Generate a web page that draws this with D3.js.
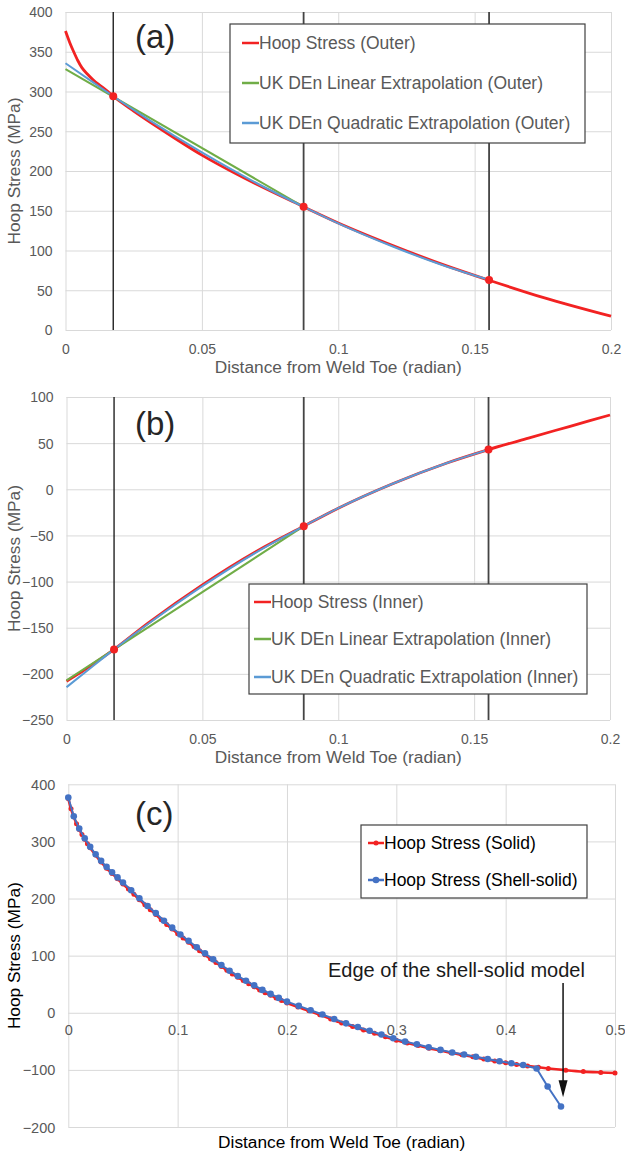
<!DOCTYPE html>
<html>
<head>
<meta charset="utf-8">
<script src="https://cdn.jsdelivr.net/npm/d3@7"></script>
<style>
body { margin: 0; background: #fff; }
svg text { font-family: "Liberation Sans", Arial, sans-serif; }
</style>
</head>
<body>
<script>
// ---- panel (a): outer surface ----
var outerHoopX = [0, 0.0015, 0.003, 0.0045, 0.006, 0.008, 0.0102, 0.0125, 0.015, 0.0175, 0.025, 0.035, 0.05, 0.065, 0.0873, 0.1, 0.12, 0.14, 0.1553, 0.175, 0.2];
var outerHoopY = [376, 362, 350, 339, 330, 322, 314.5, 308, 301.5, 294, 275.5, 252.5, 220, 192, 155, 134.7, 106.3, 80.3, 62.6, 41, 17.3];
var outerLinX = [0, 0.0873];
var outerLinY = [328, 155];
var outerQuadX = [0, 0.01, 0.0175, 0.03, 0.05, 0.07, 0.0873, 0.1, 0.12, 0.14, 0.1553];
var outerQuadY = [335.5, 311.8, 294, 265.6, 223.4, 184.9, 155, 134.1, 105, 79.5, 63];
var outerDotsY = [294, 155, 63];

// ---- panel (b): inner surface ----
var innerHoopX = [0, 0.005, 0.01, 0.0175, 0.03, 0.05, 0.07, 0.0873, 0.1, 0.12, 0.14, 0.1553, 0.17, 0.185, 0.2];
var innerHoopY = [-208, -199, -189, -173.5, -145, -103.5, -67, -40, -20.5, 6, 28.5, 43, 55.5, 68, 80.5];
var innerLinX = [0, 0.0873];
var innerLinY = [-207, -40];
var innerQuadX = [0, 0.01, 0.0175, 0.03, 0.05, 0.07, 0.0873, 0.1, 0.12, 0.14, 0.1553];
var innerQuadY = [-214.5, -191, -173.5, -146, -105, -68, -40, -20.5, 6, 28.5, 43];
var innerDotsY = [-173.5, -40, 43];

// read-out points used by the extrapolation (vertical lines)
var gaugeX = [0.0175, 0.0873, 0.1553];

// ---- panel (c): solid vs shell-solid ----
var solidX = [0, 0.0025, 0.005, 0.0075, 0.01, 0.0125, 0.015, 0.0175, 0.02,
    0.025, 0.03, 0.035, 0.04, 0.045, 0.05, 0.055, 0.06, 0.065, 0.07, 0.075, 0.08, 0.085, 0.09, 0.095, 0.1,
    0.105, 0.11, 0.115, 0.12, 0.125, 0.13, 0.135, 0.14, 0.145, 0.15, 0.155, 0.16, 0.165, 0.17, 0.175, 0.18,
    0.185, 0.19, 0.195, 0.2,
    0.21, 0.22, 0.23, 0.24, 0.25, 0.26, 0.27, 0.28, 0.29, 0.3, 0.31, 0.32, 0.33, 0.34, 0.35, 0.36, 0.37,
    0.38, 0.39, 0.4, 0.41, 0.42, 0.43,
    0.439, 0.455, 0.471, 0.487, 0.5];
var solidY = [375, 357, 343, 331, 321, 312, 304, 296, 289,
    276, 264, 253, 244, 234.5, 225.5, 216.5, 207.5, 198, 189, 180.5, 172, 163, 154.5, 146.5, 138.5,
    131, 123.5, 116, 108.5, 101.5, 94.5, 88, 81, 74.5, 68, 62, 56.5, 51, 45.5, 40, 35,
    30.5, 26, 21.5, 17,
    10, 3.5, -3.5, -11, -18, -24, -30, -36, -42, -48, -53, -57.5, -62, -66, -70, -73.5, -77,
    -81, -84.5, -87.5, -90.5, -93, -95.5,
    -97.5, -100.5, -103, -104.5, -105.5];
var shellX = [0, 0.005, 0.01, 0.015, 0.02, 0.025, 0.03, 0.035, 0.04, 0.045, 0.05,
    0.0575, 0.065, 0.0725, 0.08, 0.0875, 0.095, 0.1025, 0.11, 0.1175, 0.125, 0.1325, 0.14, 0.1475, 0.155,
    0.1625, 0.17, 0.1775, 0.185, 0.1925, 0.2,
    0.2108, 0.2216, 0.2324, 0.2432, 0.254, 0.2648, 0.2756, 0.2864, 0.2972, 0.308, 0.3188, 0.3296,
    0.3404, 0.3512, 0.362, 0.3728, 0.3836, 0.3944, 0.4052, 0.416,
    0.4283, 0.4384, 0.4506];
var shellY = [377, 344, 322.5, 305.5, 290.5, 277.5, 266, 255.5, 246, 237, 228,
    214.5, 200.5, 187, 174.5, 161, 149, 137, 126, 114.5, 104, 93.5, 83.5, 73.5, 64.5,
    56, 48, 40, 33, 26, 19.5,
    12, 4.5, -3, -11, -18.5, -25, -31.5, -38, -44.5, -50.5, -55, -60.5,
    -65, -69.5, -73, -77, -81, -85, -88.5, -91.5,
    -97.5, -129, -164];

// tick values
var xTicksAB = [0, 0.05, 0.1, 0.15, 0.2];
var yTicksA = [0, 50, 100, 150, 200, 250, 300, 350, 400];
var yTicksB = [-250, -200, -150, -100, -50, 0, 50, 100];
var xTicksC = [0, 0.1, 0.2, 0.3, 0.4, 0.5];
var yTicksC = [-200, -100, 0, 100, 200, 300, 400];

// annotation in panel (c), data units
var edgeX = 0.4525;
var edgeTop = 52, edgeTip = -148;
var edgeLabelX = 0.355, edgeLabelY = 75;

var RED = "#f22222", GREEN = "#70ad47", LBLUE = "#5b9bd5", BLUE = "#4472c4", GREY = "#595959";

var svg = d3.select("body").append("svg")
    .attr("width", 625)
    .attr("height", 1153);

function drawPanel(p) {
    var x = d3.scaleLinear().domain(p.xDomain).range([p.left, p.right]);
    var y = d3.scaleLinear().domain(p.yDomain).range([p.bottom, p.top]);
    var g = svg.append("g");

    //gridlines
    g.append("g")
        .attr("transform", "translate(0," + p.bottom + ")")
        .call(d3.axisBottom(x).tickValues(p.xTicks).tickSize(p.top - p.bottom).tickFormat(""))
        .call(function(a) { a.select(".domain").remove(); })
        .selectAll("line").attr("stroke", "#d9d9d9");
    g.append("g")
        .attr("transform", "translate(" + p.left + ",0)")
        .call(d3.axisLeft(y).tickValues(p.yTicks).tickSize(p.left - p.right).tickFormat(""))
        .call(function(a) { a.select(".domain").remove(); })
        .selectAll("line").attr("stroke", "#d9d9d9");

    //tick labels
    var xl = g.append("g")
        .attr("transform", "translate(0," + p.xLabelY(y) + ")")
        .call(d3.axisBottom(x).tickValues(p.xTicks).tickSize(0).tickPadding(0).tickFormat(function(d) { return String(d); }));
    xl.select(".domain").remove();
    xl.selectAll("text").attr("dy", "0.35em").attr("fill", GREY)
        .style("font-size", p.tickFont + "px");
    var yl = g.append("g")
        .attr("transform", "translate(" + p.left + ",0)")
        .call(d3.axisLeft(y).tickValues(p.yTicks).tickSize(0).tickPadding(p.yPad));
    yl.select(".domain").remove();
    yl.selectAll("text").attr("dy", "0.35em").attr("fill", GREY)
        .style("font-size", p.tickFont + "px");

    //axis titles
    g.append("text")
        .attr("transform", "translate(" + p.yTitleX + "," + ((p.top + p.bottom) / 2) + ") rotate(-90)")
        .attr("text-anchor", "middle")
        .attr("dy", "0.35em")
        .attr("fill", p.titleColor)
        .style("font-size", "17.3px")
        .text("Hoop Stress (MPa)");
    g.append("text")
        .attr("x", (p.left + p.right) / 2)
        .attr("y", p.xTitleY)
        .attr("text-anchor", "middle")
        .attr("dy", "0.35em")
        .attr("fill", p.titleColor)
        .style("font-size", "17.3px")
        .text("Distance from Weld Toe (radian)");

    //panel label
    g.append("text")
        .attr("x", 135)
        .attr("y", p.labelY)
        .attr("dy", "0.35em")
        .attr("fill", "#262626")
        .style("font-size", "33px")
        .text(p.label);

    //vertical read-out lines
    if (p.vlines) {
        g.selectAll(".vline").data(p.vlines).join("line")
            .attr("x1", function(d) { return x(d); })
            .attr("x2", function(d) { return x(d); })
            .attr("y1", p.top)
            .attr("y2", p.bottom)
            .attr("stroke", function(d, i) { return i == 0 ? "#111" : "#444"; })
            .attr("stroke-width", function(d, i) { return i == 0 ? 1.3 : 1.8; });
    }

    //series
    p.series.forEach(function(s) {
        var pts = d3.zip(s.x, s.y);
        var line = d3.line()
            .x(function(d) { return x(d[0]); })
            .y(function(d) { return y(d[1]); })
            .curve(s.smooth ? d3.curveMonotoneX : d3.curveLinear);
        g.append("path")
            .datum(pts)
            .attr("d", line)
            .attr("fill", "none")
            .attr("stroke", s.color)
            .attr("stroke-width", s.width)
            .attr("stroke-linejoin", "round");
        if (s.marker) {
            g.selectAll(null).data(pts).join("circle")
                .attr("cx", function(d) { return x(d[0]); })
                .attr("cy", function(d) { return y(d[1]); })
                .attr("r", s.marker)
                .attr("fill", s.color);
        }
    });

    //red read-out dots
    if (p.dots) {
        g.selectAll(".dot").data(d3.zip(p.vlines, p.dots)).join("circle")
            .attr("cx", function(d) { return x(d[0]); })
            .attr("cy", function(d) { return y(d[1]); })
            .attr("r", 4)
            .attr("fill", RED);
    }

    //annotation
    if (p.annotate) {
        g.append("text")
            .attr("x", x(edgeLabelX))
            .attr("y", y(edgeLabelY))
            .attr("dy", "0.35em")
            .attr("text-anchor", "middle")
            .attr("fill", "#1a1a1a")
            .style("font-size", "20px")
            .text("Edge of the shell-solid model");
        var ax = x(edgeX), tip = y(edgeTip);
        g.append("line")
            .attr("x1", ax).attr("x2", ax)
            .attr("y1", y(edgeTop)).attr("y2", tip - 12)
            .attr("stroke", "#111").attr("stroke-width", 1.5);
        g.append("path")
            .attr("d", "M" + (ax - 4.5) + "," + (tip - 17) + "L" + (ax + 4.5) + "," + (tip - 17) + "L" + ax + "," + tip + "Z")
            .attr("fill", "#111");
    }

    //legend
    var L = p.legend;
    var lg = g.append("g");
    lg.append("rect")
        .attr("x", L.x0).attr("y", L.y0)
        .attr("width", L.x1 - L.x0).attr("height", L.y1 - L.y0)
        .attr("fill", "#fff")
        .attr("stroke", "#404040")
        .attr("stroke-width", 1.2);
    p.series.forEach(function(s, i) {
        var ry = L.rows[i];
        lg.append("line")
            .attr("x1", L.s0).attr("x2", L.s1)
            .attr("y1", ry).attr("y2", ry)
            .attr("stroke", s.color).attr("stroke-width", 2.5);
        if (s.marker) {
            lg.append("circle")
                .attr("cx", (L.s0 + L.s1) / 2).attr("cy", ry)
                .attr("r", s.marker).attr("fill", s.color);
        }
        lg.append("text")
            .attr("x", L.s1)
            .attr("y", ry)
            .attr("dy", "0.35em")
            .attr("fill", L.color)
            .style("font-size", "17.5px")
            .text(s.name);
    });
}

drawPanel({
    label: "(a)", labelY: 36,
    left: 65.5, right: 611, top: 12, bottom: 330,
    xDomain: [0, 0.2], yDomain: [0, 400],
    xTicks: xTicksAB, yTicks: yTicksA,
    xLabelY: function(y) { return 349; }, yPad: 13, tickFont: 14,
    yTitleX: 14, xTitleY: 367, titleColor: GREY,
    vlines: gaugeX, dots: outerDotsY,
    series: [
        {name: "Hoop Stress (Outer)", x: outerHoopX, y: outerHoopY, color: RED, width: 2.8, smooth: true},
        {name: "UK DEn Linear Extrapolation (Outer)", x: outerLinX, y: outerLinY, color: GREEN, width: 2},
        {name: "UK DEn Quadratic Extrapolation (Outer)", x: outerQuadX, y: outerQuadY, color: LBLUE, width: 2, smooth: true}
    ],
    legend: {x0: 230, x1: 585, y0: 24, y1: 143, rows: [43, 83, 123], s0: 242, s1: 259, color: GREY}
});

drawPanel({
    label: "(b)", labelY: 423,
    left: 66.5, right: 610, top: 397, bottom: 720,
    xDomain: [0, 0.2], yDomain: [-250, 100],
    xTicks: xTicksAB, yTicks: yTicksB,
    xLabelY: function(y) { return 739; }, yPad: 13, tickFont: 14,
    yTitleX: 14, xTitleY: 757, titleColor: GREY,
    vlines: gaugeX, dots: innerDotsY,
    series: [
        {name: "Hoop Stress (Inner)", x: innerHoopX, y: innerHoopY, color: RED, width: 2.8, smooth: true},
        {name: "UK DEn Linear Extrapolation (Inner)", x: innerLinX, y: innerLinY, color: GREEN, width: 2},
        {name: "UK DEn Quadratic Extrapolation (Inner)", x: innerQuadX, y: innerQuadY, color: LBLUE, width: 2, smooth: true}
    ],
    legend: {x0: 249, x1: 587, y0: 584, y1: 694, rows: [602, 639, 677], s0: 254, s1: 271, color: GREY}
});

drawPanel({
    label: "(c)", labelY: 813,
    left: 68.3, right: 615, top: 784.3, bottom: 1127,
    xDomain: [0, 0.5], yDomain: [-200, 400],
    xTicks: xTicksC, yTicks: yTicksC,
    xLabelY: function(y) { return y(0) + 17; }, yPad: 13, tickFont: 14.5,
    yTitleX: 14, xTitleY: 1142, titleColor: "#000",
    annotate: true,
    series: [
        {name: "Hoop Stress (Solid)", x: solidX, y: solidY, color: RED, width: 2.6, marker: 2.5, smooth: true},
        {name: "Hoop Stress (Shell-solid)", x: shellX, y: shellY, color: BLUE, width: 2, marker: 3.3}
    ],
    legend: {x0: 361, x1: 587, y0: 825, y1: 898, rows: [843, 880], s0: 368, s1: 384, color: "#000"}
});
</script>
</body>
</html>
